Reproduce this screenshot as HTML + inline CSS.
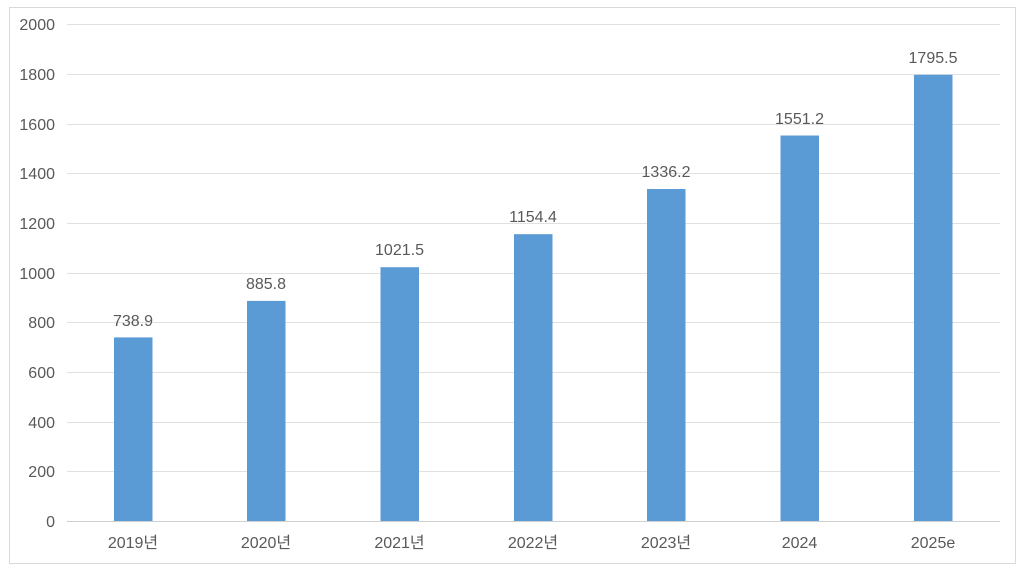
<!DOCTYPE html>
<html><head><meta charset="utf-8"><style>
body{margin:0;background:#fff}
svg text{font-family:"Liberation Sans","Noto Sans CJK KR",sans-serif;font-size:16px;fill:#595959}
</style></head><body>
<svg width="1026" height="572" xmlns="http://www.w3.org/2000/svg">
<rect x="9.5" y="7.5" width="1006" height="556" fill="#fff" stroke="#d9d9d9"/>
<g stroke="#e0e0e0" stroke-width="1">
<line x1="67" x2="1000" y1="24.5" y2="24.5"/>
<line x1="67" x2="1000" y1="74.5" y2="74.5"/>
<line x1="67" x2="1000" y1="124.5" y2="124.5"/>
<line x1="67" x2="1000" y1="173.5" y2="173.5"/>
<line x1="67" x2="1000" y1="223.5" y2="223.5"/>
<line x1="67" x2="1000" y1="273.5" y2="273.5"/>
<line x1="67" x2="1000" y1="322.5" y2="322.5"/>
<line x1="67" x2="1000" y1="372.5" y2="372.5"/>
<line x1="67" x2="1000" y1="422.5" y2="422.5"/>
<line x1="67" x2="1000" y1="471.5" y2="471.5"/>
</g>
<line x1="67" x2="1000" y1="521.5" y2="521.5" stroke="#d0d0d0"/>
<g text-anchor="end">
<text x="55" y="30">2000</text><text x="55" y="80">1800</text><text x="55" y="130">1600</text>
<text x="55" y="179">1400</text><text x="55" y="229">1200</text><text x="55" y="279">1000</text>
<text x="55" y="328">800</text><text x="55" y="378">600</text><text x="55" y="428">400</text>
<text x="55" y="477">200</text><text x="55" y="527">0</text>
</g>
<g fill="#5b9bd5">
<rect x="114" y="337.4" width="38.5" height="183.6"/>
<rect x="247" y="300.9" width="38.5" height="220.1"/>
<rect x="380.5" y="267.2" width="38.5" height="253.8"/>
<rect x="514" y="234.2" width="38.5" height="286.8"/>
<rect x="647" y="189" width="38.5" height="332"/>
<rect x="780.5" y="135.5" width="38.5" height="385.5"/>
<rect x="914" y="74.8" width="38.5" height="446.2"/>
</g>
<g text-anchor="middle">
<text x="133" y="326">738.9</text><text x="266" y="289">885.8</text><text x="399.5" y="255">1021.5</text>
<text x="533" y="222">1154.4</text><text x="666" y="177">1336.2</text><text x="799.5" y="124">1551.2</text>
<text x="933" y="63">1795.5</text>
<text x="133" y="548">2019년</text><text x="266" y="548">2020년</text><text x="399.5" y="548">2021년</text>
<text x="533" y="548">2022년</text><text x="666" y="548">2023년</text><text x="799.5" y="548">2024</text>
<text x="933" y="548">2025e</text>
</g>
</svg>
</body></html>
